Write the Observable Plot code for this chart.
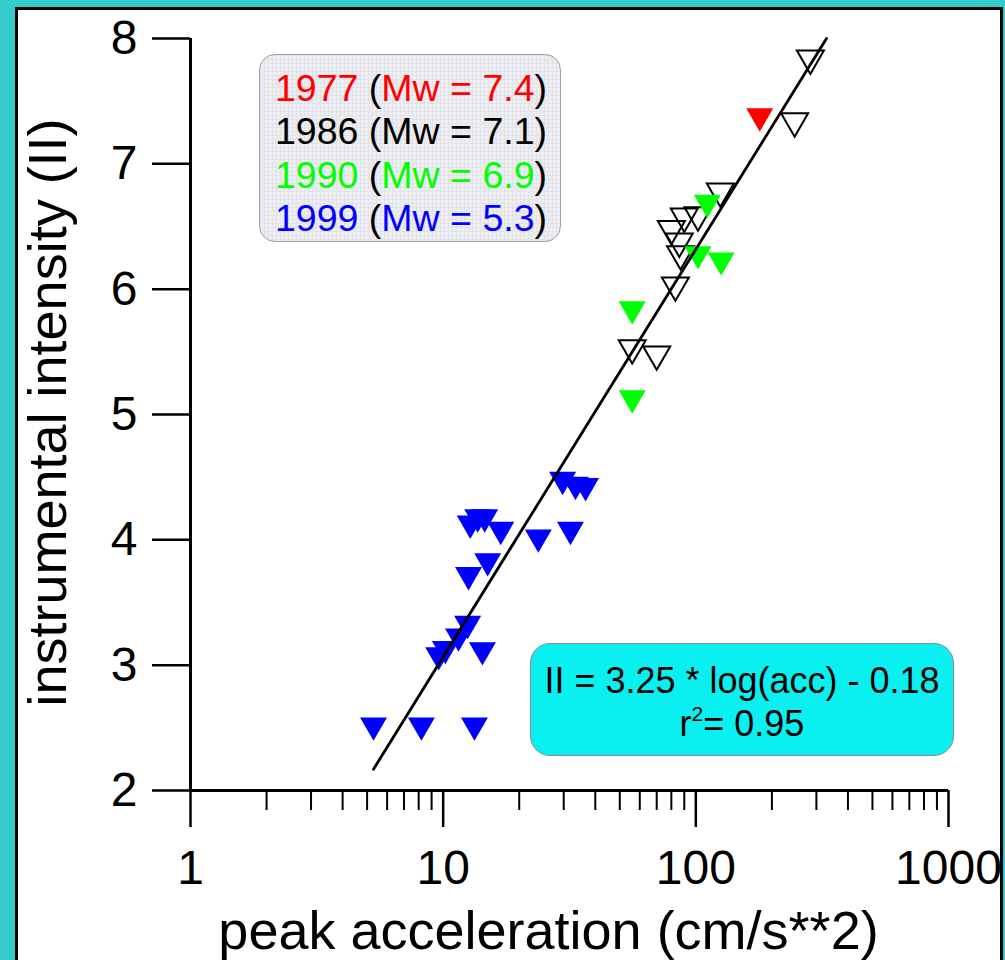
<!DOCTYPE html>
<html>
<head>
<meta charset="utf-8">
<script src="https://cdn.jsdelivr.net/npm/d3@7"></script>
<script src="https://cdn.jsdelivr.net/npm/@observablehq/plot@0.6"></script>
<style>
  html, body { margin: 0; padding: 0; }
  body { background: #33cccc; width: 1005px; height: 960px; overflow: hidden; position: relative;
         font-family: "Liberation Sans", Arial, Helvetica, sans-serif; }
  #frame { position: absolute; left: 15px; top: 7px; width: 982px; height: 960px; background: #fff;
           border: 3px solid #000; }
  #chart { position: absolute; left: 0; top: 0; }
  #legend { position: absolute; left: 241px; top: 44px; width: 300px; height: 186px;
            border: 1.5px solid #a0a0a0; border-radius: 16px; box-sizing: content-box;
            background-color: #ededf2;
            background-image: linear-gradient(#e3e3eb 1px, transparent 1px),
                              linear-gradient(90deg, #e3e3eb 1px, transparent 1px);
            background-size: 4px 4px;
            font-size: 37.5px; line-height: 43.3px; padding: 0; }
  #legend .rows { position: absolute; left: 15px; top: 12px; white-space: nowrap; }
  #eq { position: absolute; left: 512px; top: 633px; width: 422px; height: 111px;
        border: 1.5px solid #8c8c8c; border-radius: 20px; background: #0af0f0;
        font-size: 36px; line-height: 43px; text-align: center; color: #000; }
  #eq .rows { position: absolute; left: 0; right: 0; top: 15px; white-space: nowrap; }
  .sup { font-size: 21px; position: relative; top: -15px; }
</style>
</head>
<body>
<div id="frame">
  <div id="chart"></div>
  <div id="legend"><div class="rows" id="legendRows"></div></div>
  <div id="eq"><div class="rows">
    <div>II = 3.25 * log(acc) - 0.18</div>
    <div>r<span class="sup">2</span>= 0.95</div>
  </div></div>
</div>
<script>
// ---- data ----
const acc1977 = [179];
const ii1977  = [7.35];

const acc1986 = [284, 246, 125, 90, 102, 80, 86, 87, 83, 56, 70];
const ii1986  = [7.81, 7.31, 6.75, 6.55, 6.56, 6.45, 6.35, 6.25, 6.0, 5.50, 5.45];

const acc1990 = [111, 102, 126, 56, 56];
const ii1990  = [6.66, 6.25, 6.20, 5.81, 5.10];

const acc1999 = [29.7, 33.4, 36.6, 23.8, 31.9, 12.8, 13.7, 14.6, 16.9, 15.0, 12.6, 12.5, 11.5, 10.2, 9.6, 14.3, 5.3, 8.2, 13.3];
const ii1999  = [4.45, 4.41, 4.40, 3.99, 4.05, 4.10, 4.15, 4.15, 4.05, 3.80, 3.69, 3.30, 3.20, 3.10, 3.05, 3.09, 2.49, 2.49, 2.49];

// fitted line endpoints (II = 3.25*log(acc) - 0.18)
const fitAcc = [5.3, 329];
const fitII  = [2.17, 8.0];

const xMajorTicks = [1, 10, 100, 1000];
const xMinorTicks = [2, 3, 4, 5, 6, 7, 8, 9, 20, 30, 40, 50, 60, 70, 80, 90, 200, 300, 400, 500, 600, 700, 800, 900];
const yTicks = [2, 3, 4, 5, 6, 7, 8];

const legendYears = ["1977", "1986", "1990", "1999"];
const legendMw = ["7.4", "7.1", "6.9", "5.3"];
const legendColors = ["#ff0000", "#000000", "#00ff00", "#0000ff"];

const xTitle = "peak acceleration (cm/s**2)";
const yTitle = "instrumental intensity (II)";

// ---- build ----
const toRows = (xs, ys) => xs.map((x, i) => ({acc: x, ii: ys[i]}));
const d1977 = toRows(acc1977, ii1977);
const d1986 = toRows(acc1986, ii1986);
const d1990 = toRows(acc1990, ii1990);
const d1999 = toRows(acc1999, ii1999);
const fit = toRows(fitAcc, fitII);

// downward-pointing triangle symbol
const triDown = {
  draw(ctx, size) {
    const r = Math.sqrt(size / Math.PI);
    const hw = 1.35 * r, hh = 1.17 * r;
    ctx.moveTo(-hw, -hh);
    ctx.lineTo(hw, -hh);
    ctx.lineTo(0, hh);
    ctx.closePath();
  }
};

const font = "'Liberation Sans', Arial, Helvetica, sans-serif";

const chart = Plot.plot({
  width: 982,
  height: 950,
  marginLeft: 172,
  marginRight: 52,
  marginTop: 28,
  marginBottom: 170,
  x: {type: "log", domain: [1, 1000]},
  y: {domain: [2, 8]},
  style: {fontFamily: font, background: "transparent", color: "#000", overflow: "visible"},
  marks: [
    Plot.axisX({ticks: xMinorTicks, tickSize: 20, strokeWidth: 2, tickFormat: () => "", label: null}),
    Plot.axisX({ticks: xMajorTicks, tickSize: 37, tickPadding: 22, strokeWidth: 2.5, fontSize: 48,
                tickFormat: d => String(d), label: null}),
    Plot.axisY({ticks: yTicks, tickSize: 38, tickPadding: 15, strokeWidth: 2.5, fontSize: 48,
                tickFormat: d => String(d), label: null}),
    Plot.ruleX([1], {stroke: "#000", strokeWidth: 3}),
    Plot.ruleY([2], {stroke: "#000", strokeWidth: 3}),
    Plot.text([xTitle], {frameAnchor: "bottom", dy: 141, dx: -21, fontSize: 54, lineAnchor: "middle"}),
    Plot.text([yTitle], {frameAnchor: "left", textAnchor: "middle", rotate: -90, dx: -142, dy: -2,
                         fontSize: 54, lineAnchor: "middle"}),
    Plot.dot(d1986, {x: "acc", y: "ii", symbol: triDown, r: 10, fill: "none", stroke: "#000", strokeWidth: 2}),
    Plot.dot(d1990, {x: "acc", y: "ii", symbol: triDown, r: 10, fill: "#00ff00"}),
    Plot.dot(d1977, {x: "acc", y: "ii", symbol: triDown, r: 10, fill: "#ff0000"}),
    Plot.dot(d1999, {x: "acc", y: "ii", symbol: triDown, r: 10, fill: "#0000ff"}),
    Plot.line(fit, {x: "acc", y: "ii", stroke: "#000", strokeWidth: 2.8})
  ]
});
document.getElementById("chart").appendChild(chart);

// legend rows
const rows = document.getElementById("legendRows");
legendYears.forEach((yr, i) => {
  const div = document.createElement("div");
  const c = legendColors[i];
  div.innerHTML = `<span style="color:${c}">${yr}</span> (<span style="color:${c}">Mw = ${legendMw[i]}</span>)`;
  rows.appendChild(div);
});
</script>
</body>
</html>
